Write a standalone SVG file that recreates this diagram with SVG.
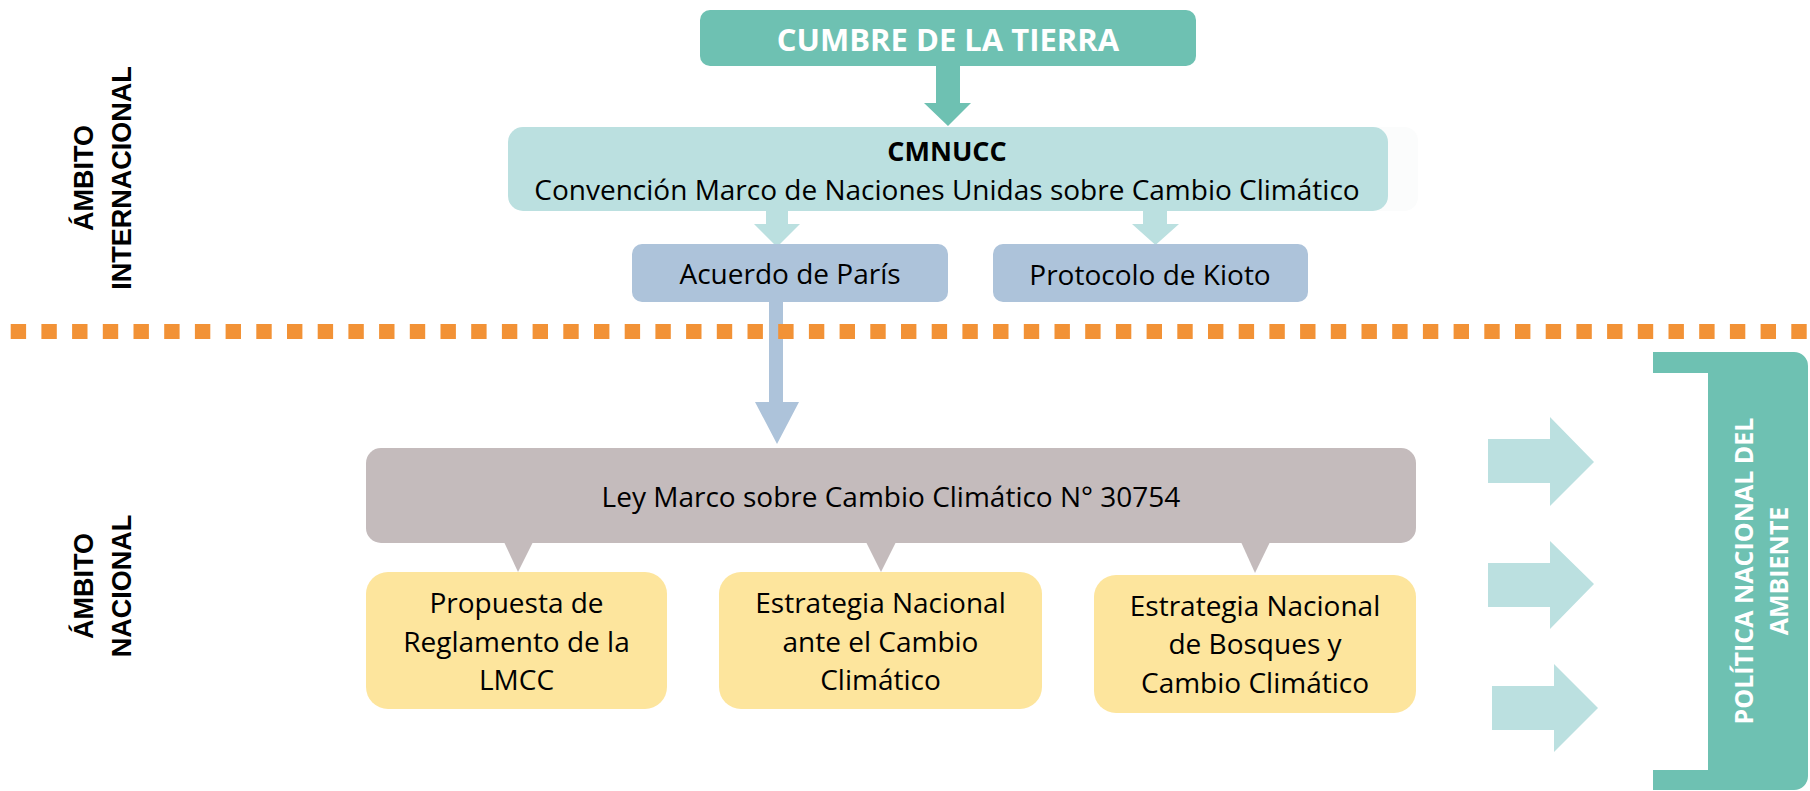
<svg xmlns="http://www.w3.org/2000/svg" width="1810" height="791" viewBox="0 0 1810 791">
<style>
.t{font-family:"Open Sans","Liberation Sans",sans-serif;font-size:28px;fill:#000;text-anchor:middle}
.b{font-weight:700}
.lab{font-family:"Liberation Sans",Arial,sans-serif;font-weight:700;font-size:27px;fill:#000;text-anchor:middle}
.pol{font-family:"Open Sans","Liberation Sans",sans-serif;font-weight:700;font-size:25px;fill:#fff;text-anchor:middle}
.teal{fill:#6EC1B2}
.lteal{fill:#BBE0E0}
.blue{fill:#ADC3DA}
.grey{fill:#C4BBBC}
.yel{fill:#FDE59D}
</style>
<rect width="1810" height="791" fill="#fff"/>

<g id="connectors">
  <path class="teal" d="M936,66 H960 V103 H971 L948,126 L924,103 H936 Z"/>
  <path class="lteal" d="M766,211 H788 V224 H800 L777,247 L754,224 H766 Z"/>
  <path class="lteal" d="M1143,211 H1167 V224 H1179 L1155.5,245 L1132,224 H1143 Z"/>
  <path class="blue" d="M769,302 H783 V402 H799 L777,444 L755,402 H769 Z"/>
  <path class="grey" d="M504,542 H533 L518,572 Z"/>
  <path class="grey" d="M866,542 H896 L881,572 Z"/>
  <path class="grey" d="M1241,542 H1270 L1255,573 Z"/>
  <path class="lteal" d="M1488,439 H1550 V417 L1594,462 L1550,506 V483 H1488 Z"/>
  <path class="lteal" d="M1488,563 H1550 V541 L1594,584 L1550,629 V607 H1488 Z"/>
  <path class="lteal" d="M1492,686 H1554 V664 L1598,708 L1554,752 V730 H1492 Z"/>
</g>

<line id="divider" x1="10.7" y1="331.5" x2="1810" y2="331.5" stroke="#F29236" stroke-width="15" stroke-dasharray="15.4 15.3"/>

<g id="label-internacional">
  <text class="lab" transform="translate(93,178) rotate(-90)"><tspan x="0" y="0">ÁMBITO</tspan><tspan x="0" y="38">INTERNACIONAL</tspan></text>
</g>
<g id="label-nacional">
  <text class="lab" transform="translate(93,586) rotate(-90)"><tspan x="0" y="0">ÁMBITO</tspan><tspan x="0" y="38">NACIONAL</tspan></text>
</g>

<g id="cumbre">
  <rect class="teal" x="700" y="10" width="496" height="56" rx="10"/>
  <text class="t b" x="948" y="51" style="font-size:31px;fill:#fff">CUMBRE DE LA TIERRA</text>
</g>

<g id="cmnucc">
  <rect x="1360" y="127" width="58" height="84" rx="14" fill="#FBFCFC"/>
  <rect class="lteal" x="508" y="127" width="880" height="84" rx="15"/>
  <text class="t b" x="947" y="161" style="font-size:27px">CMNUCC</text>
  <text class="t" x="947" y="200">Convención Marco de Naciones Unidas sobre Cambio Climático</text>
</g>

<g id="paris">
  <rect class="blue" x="632" y="244" width="316" height="58" rx="10"/>
  <text class="t" x="790" y="284">Acuerdo de París</text>
</g>

<g id="kioto">
  <rect class="blue" x="993" y="244" width="315" height="58" rx="10"/>
  <text class="t" x="1150" y="285">Protocolo de Kioto</text>
</g>

<g id="ley">
  <rect class="grey" x="366" y="448" width="1050" height="95" rx="15"/>
  <text class="t" x="891" y="507">Ley Marco sobre Cambio Climático N° 30754</text>
</g>

<g id="reglamento">
  <rect class="yel" x="366" y="572" width="301" height="137" rx="22"/>
  <text class="t" x="516.5" y="613">Propuesta de<tspan x="516.5" y="652">Reglamento de la</tspan><tspan x="516.5" y="690">LMCC</tspan></text>
</g>

<g id="encc">
  <rect class="yel" x="719" y="572" width="323" height="137" rx="22"/>
  <text class="t" x="880.5" y="613">Estrategia Nacional<tspan x="880.5" y="652">ante el Cambio</tspan><tspan x="880.5" y="690">Climático</tspan></text>
</g>

<g id="enbcc">
  <rect class="yel" x="1094" y="575" width="322" height="138" rx="22"/>
  <text class="t" x="1255" y="616">Estrategia Nacional<tspan x="1255" y="654">de Bosques y</tspan><tspan x="1255" y="693">Cambio Climático</tspan></text>
</g>

<g id="politica">
  <path class="teal" d="M1653,352 H1794 A14,14 0 0 1 1808,366 V776 A14,14 0 0 1 1794,790 H1653 V770 H1708 V373 H1653 Z"/>
  <text class="pol" transform="translate(1753,571) rotate(-90)"><tspan x="0" y="0">POLÍTICA NACIONAL DEL</tspan><tspan x="0" y="35">AMBIENTE</tspan></text>
</g>
</svg>
